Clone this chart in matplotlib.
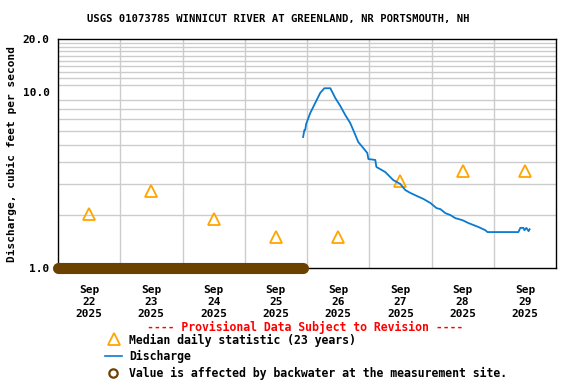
import matplotlib
matplotlib.use("Agg")
import matplotlib.pyplot as plt
from matplotlib.ticker import FixedLocator, NullFormatter
import pandas as pd

# ---- data ----
median_days = ["2025-09-22 12:00", "2025-09-23 12:00", "2025-09-24 12:00", "2025-09-25 12:00",
               "2025-09-26 12:00", "2025-09-27 12:00", "2025-09-28 12:00", "2025-09-29 12:00"]
median_values = [2.03, 2.74, 1.90, 1.50, 1.50, 3.12, 3.56, 3.56]

discharge_times = ["2025-09-25 22:30", "2025-09-25 23:00", "2025-09-25 23:20", "2025-09-25 23:40",
                   "2025-09-26 01:15", "2025-09-26 03:10", "2025-09-26 05:05", "2025-09-26 06:40",
                   "2025-09-26 09:00", "2025-09-26 10:55", "2025-09-26 12:50", "2025-09-26 14:45",
                   "2025-09-26 16:40", "2025-09-26 17:50", "2025-09-26 19:45", "2025-09-26 21:40",
                   "2025-09-26 23:15", "2025-09-26 23:40", "2025-09-27 02:20", "2025-09-27 02:45",
                   "2025-09-27 06:10", "2025-09-27 09:15", "2025-09-27 12:00", "2025-09-27 13:55",
                   "2025-09-27 15:50", "2025-09-27 18:30", "2025-09-27 20:50", "2025-09-27 23:35",
                   "2025-09-28 01:55", "2025-09-28 03:25", "2025-09-28 05:20", "2025-09-28 07:15",
                   "2025-09-28 09:10", "2025-09-28 11:55", "2025-09-28 14:15", "2025-09-28 18:05",
                   "2025-09-28 20:45", "2025-09-28 21:35", "2025-09-29 09:30", "2025-09-29 10:15",
                   "2025-09-29 11:25", "2025-09-29 11:50", "2025-09-29 12:35", "2025-09-29 13:25",
                   "2025-09-29 13:50"]
discharge_values = [5.55, 6.08, 6.10, 6.58,
                    7.59, 8.66, 9.87, 10.5,
                    10.5, 9.24, 8.33, 7.40,
                    6.66, 6.08, 5.20, 4.81,
                    4.50, 4.16, 4.11, 3.75,
                    3.51, 3.16, 3.00, 2.77,
                    2.67, 2.56, 2.47, 2.34,
                    2.19, 2.16, 2.05, 2.00,
                    1.92, 1.87, 1.80, 1.71,
                    1.64, 1.60, 1.60, 1.69,
                    1.69, 1.64, 1.69, 1.62,
                    1.66]

backwater_times = ["2025-09-22 00:00", "2025-09-25 22:30"]
backwater_values = [1.0, 1.0]

x_tick_days = ["2025-09-22 12:00", "2025-09-23 12:00", "2025-09-24 12:00", "2025-09-25 12:00",
               "2025-09-26 12:00", "2025-09-27 12:00", "2025-09-28 12:00", "2025-09-29 12:00"]
x_tick_labels = ["Sep\n22\n2025", "Sep\n23\n2025", "Sep\n24\n2025", "Sep\n25\n2025",
                 "Sep\n26\n2025", "Sep\n27\n2025", "Sep\n28\n2025", "Sep\n29\n2025"]
y_ticks = [1.0, 10.0, 20.0]
y_tick_labels = ["1.0", "10.0", "20.0"]

title = "USGS 01073785 WINNICUT RIVER AT GREENLAND, NR PORTSMOUTH, NH"

# ---- style ----
FONT = "DejaVu Sans Mono"
plt.rcParams["font.family"] = [FONT]
plt.rcParams["font.weight"] = "bold"
FS = 8

fig = plt.figure(figsize=(5.76, 3.84), dpi=100)
ax = fig.add_axes([58/576, 1-268/384, (556-58)/576, (268-39)/384])

ax.set_yscale("log")
ax.set_ylim(1.0, 20.0)
ax.set_xlim(pd.Timestamp("2025-09-22 00:00"), pd.Timestamp("2025-09-30 00:00"))

# grid
grid_c = "#cccccc"
for d in pd.date_range("2025-09-23", "2025-09-29", freq="D"):
    ax.axvline(d, color=grid_c, lw=1.0, zorder=0)
for v in list(range(2, 10)) + list(range(11, 20)):
    ax.axhline(v, color=grid_c, lw=1.0, zorder=0)

mt = pd.to_datetime(median_days)
ax.plot(mt, median_values, linestyle="none", marker="^", markersize=8,
        markerfacecolor="none", markeredgecolor="#ffa500", markeredgewidth=1.3, zorder=3)

dt = pd.to_datetime(discharge_times)
ax.plot(dt, discharge_values, color="#0a7ad0", lw=1.3, zorder=4)

bt = pd.to_datetime(backwater_times)
ax.plot(bt, backwater_values, color="#6b4100", lw=8, solid_capstyle="round",
        clip_on=False, zorder=5)

ax.yaxis.set_major_locator(FixedLocator(y_ticks))
ax.set_yticklabels(y_tick_labels, fontsize=FS, fontweight="bold", family=FONT)
ax.yaxis.set_minor_formatter(NullFormatter())
ax.tick_params(axis="y", which="both", length=0, pad=6)
ax.set_xticks(pd.to_datetime(x_tick_days))
ax.set_xticklabels(x_tick_labels, fontsize=FS, fontweight="bold", family=FONT, linespacing=1.3)
ax.tick_params(axis="x", length=0, pad=12)

for s in ax.spines.values():
    s.set_color("black")
    s.set_linewidth(1.0)

ax.set_ylabel("Discharge, cubic feet per second", fontsize=FS, fontweight="bold", family=FONT, labelpad=4)

fig.text(278/576, 1-19/384, title, ha="center", va="center", fontsize=7.6, fontweight="bold", family=FONT)
fig.text(305/576, 1-327/384, "---- Provisional Data Subject to Revision ----", ha="center", va="center",
         fontsize=8.3, fontweight="bold", family=FONT, color="red")

# legend (manual)
lx = 129/576
LFS = 8.3
fig.text(lx, 1-340/384, "Median daily statistic (23 years)", ha="left", va="center", fontsize=LFS, fontweight="bold", family=FONT)
fig.text(lx, 1-356/384, "Discharge", ha="left", va="center", fontsize=LFS, fontweight="bold", family=FONT)
fig.text(lx, 1-373/384, "Value is affected by backwater at the measurement site.", ha="left", va="center", fontsize=LFS, fontweight="bold", family=FONT)
lax = fig.add_axes([0, 0, 1, 1], facecolor="none")
lax.set_xlim(0, 576); lax.set_ylim(384, 0); lax.axis("off")
lax.plot([114], [339], marker="^", markersize=8, markerfacecolor="none", markeredgecolor="#ffa500", markeredgewidth=1.3, linestyle="none")
lax.plot([105, 122], [356, 356], color="#0a7ad0", lw=1.2)
lax.plot([113], [373], marker="o", markersize=6, markerfacecolor="none", markeredgecolor="#6b4100", markeredgewidth=1.6, linestyle="none")

fig.savefig("out.png", dpi=100)
